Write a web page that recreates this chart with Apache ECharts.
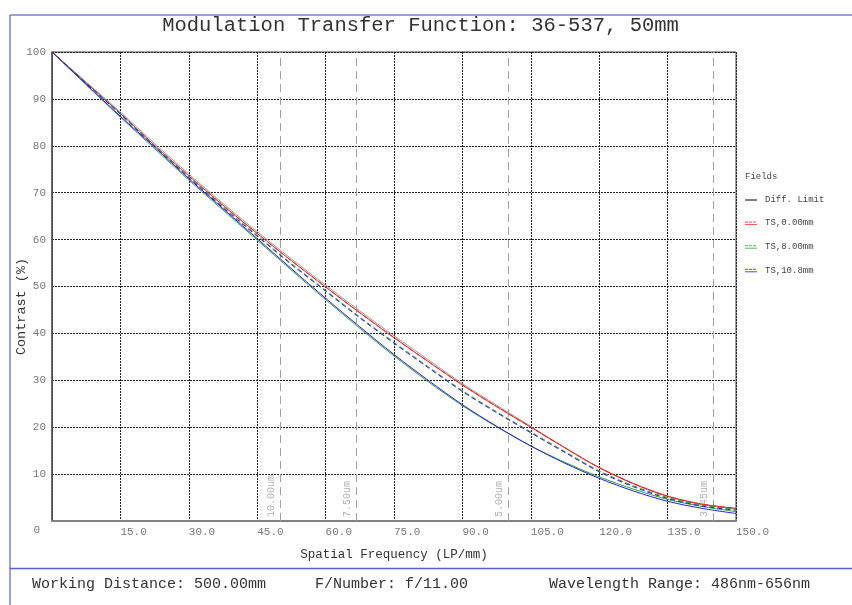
<!DOCTYPE html>
<html><head><meta charset="utf-8">
<script src="https://cdn.jsdelivr.net/npm/echarts@6/dist/echarts.min.js"></script>
<style>html,body{margin:0;padding:0;background:#fff;}#c{width:852px;height:605px;}</style>
</head><body><div id="c"></div>
<script>
const freq = [0,7.5,15,22.5,30,37.5,45,52.5,60,67.5,75,82.5,90,97.5,105,112.5,120,127.5,135,142.5,150];
const diffLimit = [100,93.6,87.2,80.5,74.0,67.7,61.7,55.9,50.3,44.8,39.5,34.4,29.3,24.7,20.2,15.6,11.3,7.9,5.2,3.5,2.6];
const ts0T = [100,93.4,86.9,80.1,73.6,67.3,61.3,55.5,49.9,44.4,39.1,34.0,29.0,24.4,20.0,15.6,11.4,8.0,5.3,3.6,2.7];
const ts0S = [100,93.4,86.9,80.1,73.6,67.3,61.3,55.5,49.9,44.4,39.1,34.0,29.0,24.4,20.0,15.6,11.4,8.0,5.3,3.6,2.7];
const ts8T = [100,93.0,86.1,79.4,72.7,66.3,59.9,53.5,47.2,41.1,35.2,29.7,24.6,20.1,16.0,12.5,9.4,6.8,4.6,3.1,2.0];
const ts8S = [100,93.4,86.9,80.0,73.4,67.0,60.9,54.9,49.2,43.5,38.1,32.9,27.8,23.3,19.0,14.8,10.7,7.5,5.0,3.4,2.5];
const ts108T = [100,93.1,86.3,79.7,73.0,66.6,60.2,53.8,47.5,41.4,35.5,30.0,24.8,20.2,16.0,12.3,9.1,6.4,4.2,2.7,1.6];
const ts108S = [100,93.3,86.7,79.8,73.2,66.8,60.7,54.7,49.0,43.3,37.9,32.7,27.6,23.1,18.8,14.6,10.5,7.3,4.8,3.2,2.3];
const nyqFreq = [50, 66.67, 100, 144.93];
const nyqLabels = ['10.00um','7.50um','5.00um','3.45um'];
const fieldNames = ['Diff. Limit','TS,0.00mm','TS,8.00mm','TS,10.8mm'];
const fieldColors = ['#000000','#ee2222','#33a033','#2222dd'];
const titleText = 'Modulation Transfer Function: 36-537, 50mm';
const footerTexts = ['Working Distance: 500.00mm','F/Number: f/11.00','Wavelength Range: 486nm-656nm'];

const FONT = 'Liberation Mono';
const pair = (ys) => freq.map((f,i)=>[f, ys[i]]);
const chart = echarts.init(document.getElementById('c'));

function lineSeries(name, data, color, dashed, z) {
  return {
    name, type: 'line', data: pair(data), showSymbol: false, smooth: 0.3,
    lineStyle: { color, width: 1, type: dashed ? [5,3] : 'solid' },
    itemStyle: { color }, z, silent: true, animation: false
  };
}

const series = [
  lineSeries(fieldNames[0], diffLimit, '#9a9a9a', false, 2),
  lineSeries(fieldNames[2], ts8T, fieldColors[2], false, 3),
  lineSeries(fieldNames[3], ts108T, fieldColors[3], false, 4),
  lineSeries(fieldNames[1], ts0T, fieldColors[1], false, 5),
  lineSeries(fieldNames[1], ts0S, fieldColors[1], true, 6),
  lineSeries(fieldNames[2], ts8S, fieldColors[2], true, 7),
  lineSeries(fieldNames[3], ts108S, fieldColors[3], true, 8)
];
series[0].markLine = {
  silent: true, symbol: ['none','none'], animation: false,
  lineStyle: { color: '#a0a0a0', type: [8,5], width: 1 },
  label: { show: true, position: 'insideStartTop', formatter: p => p.name, color: '#b0b0b0', fontFamily: FONT, fontSize: 10, distance: 4 },
  data: nyqFreq.map((f,i)=>({ xAxis: f, name: nyqLabels[i] }))
};

const legendG = [];
legendG.push({ type: 'text', left: 745, top: 172, style: { text: 'Fields', font: '9px ' + FONT, fill: '#444' } });
fieldNames.forEach((n,i) => {
  const y = 200 + i * 23.6;
  const c = fieldColors[i];
  if (i === 0) {
    legendG.push({ type: 'line', shape: { x1: 745, y1: y, x2: 757, y2: y }, style: { stroke: c, lineWidth: 1 } });
  } else {
    legendG.push({ type: 'line', shape: { x1: 745, y1: y - 1.5, x2: 757, y2: y - 1.5 }, style: { stroke: c, lineWidth: 1, lineDash: [3,1], opacity: 0.8 } });
    legendG.push({ type: 'line', shape: { x1: 745, y1: y + 1, x2: 757, y2: y + 1 }, style: { stroke: c, lineWidth: 1, opacity: 0.8 } });
  }
  legendG.push({ type: 'text', left: 765, top: y - 5, style: { text: n, font: '9px ' + FONT, fill: '#444' } });
});

const frame = [
  { type: 'line', shape: { x1: 10, y1: 15, x2: 852, y2: 15 }, style: { stroke: '#3c3cc8', lineWidth: 1 } },
  { type: 'line', shape: { x1: 10, y1: 15, x2: 10, y2: 605 }, style: { stroke: '#3c3cc8', lineWidth: 1 } },
  { type: 'line', shape: { x1: 10, y1: 568.5, x2: 852, y2: 568.5 }, style: { stroke: '#5a5ad2', lineWidth: 1.5 } },
  { type: 'text', left: 32, top: 577, style: { text: footerTexts[0], font: '15px ' + FONT, fill: '#333' } },
  { type: 'text', left: 315, top: 577, style: { text: footerTexts[1], font: '15px ' + FONT, fill: '#333' } },
  { type: 'text', left: 549, top: 577, style: { text: footerTexts[2], font: '15px ' + FONT, fill: '#333' } },
  { type: 'text', x: 420.5, y: 15, style: { text: titleText, font: '20.5px ' + FONT, fill: '#333', textAlign: 'center' } }
];

chart.setOption({
  animation: false,
  backgroundColor: '#fff',
  grid: { left: 52, top: 52, right: 116, bottom: 84, show: true, borderColor: '#444', borderWidth: 1, outerBoundsMode: 'none', containLabel: false },
  xAxis: {
    type: 'value', min: 0, max: 150, interval: 15,
    name: 'Spatial Frequency (LP/mm)', nameLocation: 'middle', nameGap: 27,
    nameTextStyle: { fontFamily: FONT, fontSize: 12.5, color: '#333' },
    axisLine: { show: true, lineStyle: { color: '#808080', width: 2 } },
    axisTick: { show: false },
    axisLabel: { align: 'left', margin: 6, fontFamily: FONT, fontSize: 11, color: '#777',
      formatter: v => v === 0 ? '' : v.toFixed(1) },
    splitLine: { show: true, lineStyle: { color: '#222', type: [2,1], width: 1 } }
  },
  yAxis: {
    type: 'value', min: 0, max: 100, interval: 10,
    name: 'Contrast (%)', nameLocation: 'middle', nameGap: 24, nameMoveOverlap: false,
    nameTextStyle: { fontFamily: FONT, fontSize: 13.5, color: '#333', padding: [0, 40, 0, 0] },
    axisLine: { show: true, lineStyle: { color: '#555', width: 1.5 } },
    axisTick: { show: false },
    axisLabel: { margin: 6, fontFamily: FONT, fontSize: 11, color: '#777',
      formatter: v => v === 0 ? '{z|0}' : String(v),
      rich: { z: { fontFamily: FONT, fontSize: 11, color: '#777', padding: [18, 6, 0, 0] } } },
    splitLine: { show: true, lineStyle: { color: '#222', type: [2,1], width: 1 } }
  },
  graphic: frame.concat(legendG),
  series
});
</script></body></html>
